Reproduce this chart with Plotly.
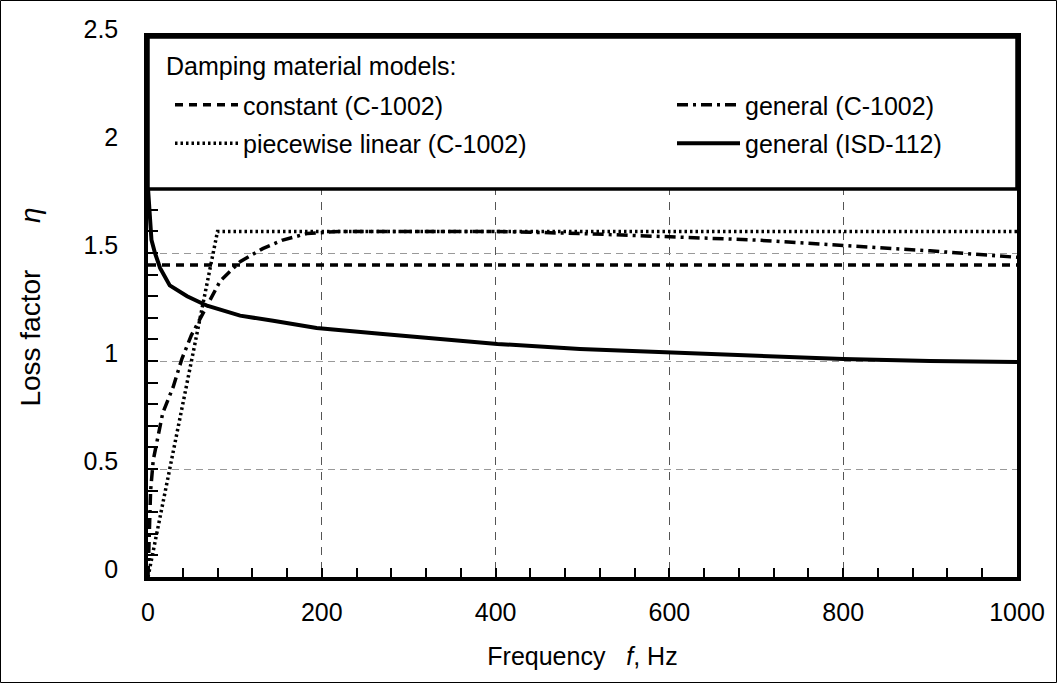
import plotly.graph_objects as go

# ---- data ----
freq_const = [0, 1000]
eta_const = [1.445, 1.445]

freq_pw = [0, 80, 1000]
eta_pw = [0.0, 1.6, 1.6]

freq_gen_c = [0, 1, 3, 6, 17, 29, 39, 50, 68, 83, 106, 132, 155, 183, 220, 300, 400, 500, 600, 700, 800, 900, 1000]
eta_gen_c = [0.0, 0.2, 0.4, 0.54, 0.76, 0.88, 1.01, 1.12, 1.26, 1.37, 1.46, 1.52, 1.56, 1.59, 1.60, 1.60, 1.60, 1.59, 1.575, 1.56, 1.535, 1.51, 1.48]

freq_isd = [0, 1, 2, 4, 8, 14, 25, 45, 68, 106, 144, 194, 267, 402, 497, 597, 700, 800, 900, 1000]
eta_isd = [1.80, 1.72, 1.63, 1.56, 1.50, 1.43, 1.35, 1.30, 1.256, 1.21, 1.186, 1.153, 1.126, 1.079, 1.056, 1.042, 1.025, 1.009, 1.0, 0.995]

x_ticks = [0, 200, 400, 600, 800, 1000]
y_ticks = [0, 0.5, 1, 1.5, 2, 2.5]
y_ticktext = ["0", "0.5", "1", "1.5", "2", "2.5"]
legend_heading = "Damping material models:"

FONT = "Liberation Sans, Arial, sans-serif"
W, H = 1057, 683
ML, MR, MT, MB = 148, 40, 37, 106
PW, PH = W - ML - MR, H - MT - MB

fig = go.Figure()
fig.add_trace(go.Scatter(x=freq_const, y=eta_const, mode="lines", name="constant (C-1002)",
                         legendgroup="a", line=dict(color="black", width=3.5, dash="8px,6px"), legend="legend"))
fig.add_trace(go.Scatter(x=freq_pw, y=eta_pw, mode="lines", name="piecewise linear (C-1002)",
                         legendgroup="b", line=dict(color="black", width=3.5, dash="2.5px,3px"), legend="legend"))
fig.add_trace(go.Scatter(x=freq_gen_c, y=eta_gen_c, mode="lines", name="general (C-1002)",
                         legendgroup="c", line=dict(color="black", width=3.5, dash="11px,5px,3px,5px"), legend="legend2"))
fig.add_trace(go.Scatter(x=freq_isd, y=eta_isd, mode="lines", name="general (ISD-112)",
                         legendgroup="d", line=dict(color="black", width=4), legend="legend2"))

def px_x(p):
    return (p - ML) / PW

def px_y(p):
    return (MT + PH - p) / PH

shapes = [
    # legend box covering top of plot
    dict(type="rect", xref="paper", yref="paper", x0=0, x1=1, y0=px_y(189), y1=1,
         line=dict(color="black", width=3.5), fillcolor="white", layer="above"),
    # outer frame of the picture
    dict(type="rect", xref="paper", yref="paper", x0=px_x(0.5), x1=px_x(W - 0.5),
         y0=px_y(H - 0.5), y1=px_y(0.5), line=dict(color="black", width=1), layer="above"),
]

legend_common = dict(
    bgcolor="rgba(0,0,0,0)", borderwidth=0, xanchor="left", yanchor="top",
    font=dict(family=FONT, size=25, color="black"), itemwidth=63,
    tracegroupgap=3, orientation="v", traceorder="grouped",
)

fig.update_layout(
    width=W, height=H,
    margin=dict(l=ML, r=MR, t=MT, b=MB),
    paper_bgcolor="white", plot_bgcolor="white",
    font=dict(family=FONT, size=25, color="black"),
    shapes=shapes,
    annotations=[dict(text=legend_heading, xref="paper", yref="paper", x=px_x(164), y=px_y(66),
                      xanchor="left", yanchor="middle", showarrow=False,
                      font=dict(family=FONT, size=25, color="black"))],
    legend=dict(x=px_x(170), y=px_y(82), **legend_common),
    legend2=dict(x=px_x(672), y=px_y(82), **legend_common),
    xaxis=dict(
        range=[0, 1000], tickmode="array", tickvals=x_ticks, ticks="inside", ticklen=9,
        tickcolor="black", tickwidth=1.5,
        minor=dict(dtick=40, ticks="inside", ticklen=9, tickcolor="black", tickwidth=1.5, showgrid=False),
        showline=True, linecolor="black", linewidth=3.5, mirror=True,
        showgrid=True, gridcolor="#555", griddash="8px,7px", gridwidth=1,
        zeroline=False, tickfont=dict(family=FONT, size=25, color="black"),
        ticklabelstandoff=10,
        title=dict(text="Frequency\u00a0\u00a0\u00a0<i>f</i>, Hz", font=dict(family=FONT, size=25, color="black"),
                   standoff=24),
    ),
    yaxis=dict(
        range=[0, 2.5], tickmode="array", tickvals=y_ticks, ticktext=y_ticktext, ticks="inside", ticklen=10,
        tickcolor="black", tickwidth=1.5,
        minor=dict(dtick=0.1, ticks="inside", ticklen=10, tickcolor="black", tickwidth=1.5, showgrid=False),
        showline=True, linecolor="black", linewidth=3.5, mirror=True,
        showgrid=True, gridcolor="#999", griddash="7px,5px", gridwidth=1,
        zeroline=False, tickfont=dict(family=FONT, size=25, color="black"),
        ticklabelstandoff=21, ticklabelshift=-8,
        title=dict(text="Loss factor\u00a0\u00a0\u00a0\u00a0\u00a0\u00a0<i>\u03b7</i>",
                   font=dict(family=FONT, size=28, color="black"), standoff=36),
    ),
)

fig.write_html("out.html")
